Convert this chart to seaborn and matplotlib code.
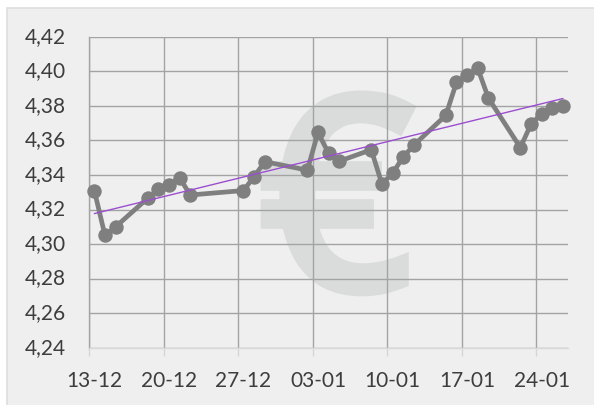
import numpy as np
import pandas as pd
import seaborn as sns
import matplotlib
matplotlib.use("Agg")
import matplotlib.pyplot as plt
import matplotlib.patheffects as pe
from matplotlib.patches import Rectangle
from matplotlib.transforms import ScaledTranslation

# days since 13-12
days = [0, 1, 2, 5, 6, 7, 8, 9, 14, 15, 16, 20, 21, 22, 23, 26, 27, 28, 29, 30,
        33, 34, 35, 36, 37, 40, 41, 42, 43, 44]
rates = [4.331, 4.305, 4.310, 4.3265, 4.3317, 4.334, 4.3385, 4.3284, 4.331, 4.339,
         4.3477, 4.3428, 4.3646, 4.3525, 4.348, 4.3546, 4.3348, 4.341, 4.3504, 4.3573,
         4.3745, 4.3936, 4.3976, 4.4017, 4.3845, 4.3558, 4.3695, 4.3754, 4.3785, 4.380]
x_labels = ["13-12", "20-12", "27-12", "03-01", "10-01", "17-01", "24-01"]
y_ticks = [4.24, 4.26, 4.28, 4.30, 4.32, 4.34, 4.36, 4.38, 4.40, 4.42]

W, H = 594, 405
BG = "#efefef"
GRID = "#a3a3a3"
TEXT = "#3d3d3d"
LINE = "#7f7f7f"
EURO = "#dadcdc"

sns.set_theme(style="white")
plt.rcParams["font.family"] = ["Lato", "DejaVu Sans"]

fig = plt.figure(figsize=(W / 100, H / 100), dpi=100, facecolor="white")
fig.add_artist(Rectangle((7 / W, -0.02), 1.02 - 7 / W, 1.02 - 7.5 / H, transform=fig.transFigure,
                         facecolor=BG, edgecolor="#dedede", linewidth=1.2, zorder=-5))
ax = fig.add_axes([89 / W, 1 - 347.7 / H, (568.3 - 89) / W, (347.7 - 36.8) / H], zorder=2)
ax.set_facecolor("none")

df = pd.DataFrame({"day": days, "rate": rates})
ax.set_xlim(-0.5, 44.5)
ax.set_ylim(4.24, 4.42)

ax.text(0.516, 0.414, "€", transform=ax.transAxes, ha="center", va="center",
        fontsize=190, family="Noto Sans", color=EURO, zorder=0,
        path_effects=[pe.withStroke(linewidth=9, foreground=EURO, joinstyle="miter")])

# gridlines sit at the week boundaries, labels at the centre of the labelled day
week_starts = list(range(0, 7 * len(x_labels), 7))
ax.set_xticks([d - 0.5 for d in week_starts], [""] * len(x_labels))
ax.set_xticks(week_starts, x_labels, minor=True)
ax.set_yticks(y_ticks, [f"{v:.2f}".replace(".", ",") for v in y_ticks])
ax.grid(True, which="major", color=GRID, linewidth=1.0, zorder=1)
ax.set_axisbelow(True)
for s in ax.spines.values():
    s.set_visible(False)
ax.spines["bottom"].set_visible(True)
ax.spines["bottom"].set_color("#d9d9d9")
ax.spines["bottom"].set_linewidth(1.0)
ax.spines["left"].set_visible(True)
ax.spines["left"].set_color(GRID)
ax.spines["left"].set_linewidth(1.0)
ax.tick_params(axis="x", which="major", length=6, width=1.0, color="#d6d6d6", bottom=True)
ax.tick_params(axis="x", which="minor", length=0, pad=16.5, labelsize=15, labelcolor=TEXT, bottom=True)
ax.tick_params(axis="y", length=0, pad=16.5, labelsize=15, labelcolor=TEXT)
for lab in ax.get_yticklabels():
    lab.set_transform(lab.get_transform() + ScaledTranslation(0, 1.5 / 72, fig.dpi_scale_trans))

sns.lineplot(data=df, x="day", y="rate", ax=ax, color=LINE, linewidth=3.4, marker="o",
             markersize=10.4, markeredgewidth=0, zorder=3, legend=False, clip_on=False)
sns.regplot(data=df, x="day", y="rate", ax=ax, scatter=False, ci=None, truncate=True,
            line_kws={"color": "#9b4fd0", "linewidth": 1.0, "zorder": 4})
ax.set_xlim(-0.5, 44.5)
ax.set_ylim(4.24, 4.42)
ax.set_xlabel("")
ax.set_ylabel("")
fig.savefig("out.png", dpi=100, facecolor="white")
